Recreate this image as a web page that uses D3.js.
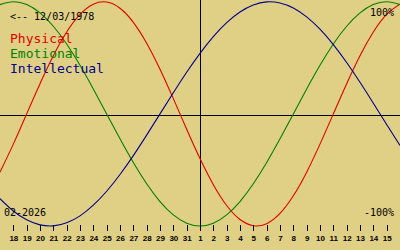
<!DOCTYPE html>
<html>
<head>
<meta charset="utf-8">
<script src="https://cdn.jsdelivr.net/npm/d3@7"></script>
<style>
  html, body { margin: 0; padding: 0; background: #e0d085; }
  svg { display: block; }
</style>
</head>
<body>
<svg id="chart" width="400" height="250"></svg>
<script>
// ---- data ----
const birthDate = "12/03/1978";
const monthLabel = "02-2026";
const seriesNames = ["Physical", "Emotional", "Intellectual"];
const seriesColors = ["#e00000", "#008000", "#000090"];
// day labels shown under the ticks (index 0..28)
const dayLabels = [18,19,20,21,22,23,24,25,26,27,28,29,30,31,1,2,3,4,5,6,7,8,9,10,11,12,13,14,15];
// day index of each value sample (one day before first label to one day after last)
const dayIndex = [-1,0,1,2,3,4,5,6,7,8,9,10,11,12,13,14,15,16,17,18,19,20,21,22,23,24,25,26,27,28,29];
const physical = [-0.5196,-0.2698,0,0.2698,0.5196,0.7308,0.8879,0.9791,0.9977,0.9423,0.8170,0.6311,0.3984,0.1362,-0.1362,-0.3984,-0.6311,-0.8170,-0.9423,-0.9977,-0.9791,-0.8879,-0.7308,-0.5196,-0.2698,0,0.2698,0.5196,0.7308,0.8879,0.9791];
const emotional = [0.9749,1,0.9749,0.9010,0.7818,0.6235,0.4339,0.2225,0,-0.2225,-0.4339,-0.6235,-0.7818,-0.9010,-0.9749,-1,-0.9749,-0.9010,-0.7818,-0.6235,-0.4339,-0.2225,0,0.2225,0.4339,0.6235,0.7818,0.9010,0.9749,1,0.9749];
const intellectual = [-0.7557,-0.8660,-0.9450,-0.9898,-0.9989,-0.9718,-0.9096,-0.8146,-0.6901,-0.5406,-0.3717,-0.1893,0,0.1893,0.3717,0.5406,0.6901,0.8146,0.9096,0.9718,0.9989,0.9898,0.9450,0.8660,0.7557,0.6182,0.4582,0.2817,0.0951,-0.0951,-0.2817];
const topLabel = "100%";
const bottomLabel = "-100%";
const centerDay = 14; // index of day "1"

// ---- layout ----
const W = 400, H = 250;
const svg = d3.select("#chart");
const x = d3.scaleLinear().domain([-1, 29]).range([0, W]);
const y = d3.scaleLinear().domain([-1, 1]).range([226, 1.8]);
const zeroY = 115.5;
const axisY = 225;
const mono = "'DejaVu Sans Mono', 'Liberation Mono', monospace";

// axes lines
svg.append("line")
  .attr("x1", 0).attr("x2", W)
  .attr("y1", zeroY).attr("y2", zeroY)
  .attr("stroke", "#000").attr("stroke-width", 1);
const cx = Math.floor(x(centerDay)) + 0.5;
svg.append("line")
  .attr("x1", cx).attr("x2", cx)
  .attr("y1", 0).attr("y2", 227)
  .attr("stroke", "#000").attr("stroke-width", 1);

// curves
const allSeries = [physical, emotional, intellectual];
const line = d3.line()
  .x((d, i) => x(dayIndex[i]))
  .y(d => y(d))
  .curve(d3.curveNatural);
allSeries.forEach((s, k) => {
  svg.append("path")
    .attr("d", line(s))
    .attr("fill", "none")
    .attr("stroke", seriesColors[k])
    .attr("stroke-width", 1.1);
});

// bottom axis with day ticks
const axis = d3.axisBottom(x)
  .tickValues(d3.range(dayLabels.length))
  .tickFormat(i => dayLabels[i])
  .tickSize(6)
  .tickPadding(4.5);
const g = svg.append("g").attr("transform", `translate(0,${axisY})`).call(axis);
g.select(".domain").remove();
g.selectAll(".tick line").attr("stroke", "#000").attr("shape-rendering", "crispEdges");
g.selectAll(".tick text")
  .attr("fill", "#000")
  .style("font-family", "'Liberation Sans', Arial, sans-serif")
  .style("font-size", "8px")
  .style("font-weight", "bold");

// texts
svg.append("text").attr("x", 10).attr("y", 20)
  .style("font-family", mono).style("font-size", "10px").attr("fill", "#000")
  .text("<-- " + birthDate);
seriesNames.forEach((n, k) => {
  svg.append("text").attr("x", 10).attr("y", 42.5 + k * 15)
    .style("font-family", mono).style("font-size", "13px")
    .attr("fill", seriesColors[k]).text(n);
});
svg.append("text").attr("x", 394).attr("y", 16).attr("text-anchor", "end")
  .style("font-family", mono).style("font-size", "10px").attr("fill", "#000")
  .text(topLabel);
svg.append("text").attr("x", 394).attr("y", 216).attr("text-anchor", "end")
  .style("font-family", mono).style("font-size", "10px").attr("fill", "#000")
  .text(bottomLabel);
svg.append("text").attr("x", 4).attr("y", 216)
  .style("font-family", mono).style("font-size", "10px").attr("fill", "#000")
  .text(monthLabel);
</script>
</body>
</html>
